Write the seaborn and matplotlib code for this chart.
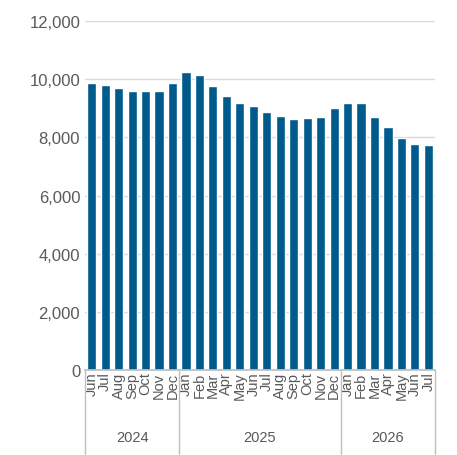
import matplotlib
matplotlib.use("Agg")
import matplotlib.pyplot as plt
import seaborn as sns
import pandas as pd

months = ["Jun", "Jul", "Aug", "Sep", "Oct", "Nov", "Dec",
          "Jan", "Feb", "Mar", "Apr", "May", "Jun", "Jul", "Aug", "Sep", "Oct", "Nov", "Dec",
          "Jan", "Feb", "Mar", "Apr", "May", "Jun", "Jul"]
years = ["2024"] * 7 + ["2025"] * 12 + ["2026"] * 7
values = [9850, 9800, 9700, 9600, 9600, 9600, 9870,
          10250, 10150, 9770, 9420, 9180, 9080, 8870, 8730, 8630, 8660, 8700, 9010,
          9180, 9180, 8700, 8360, 7980, 7770, 7740]

df = pd.DataFrame({"pos": range(len(values)), "value": values})

sns.set_theme(style="white")
plt.rcParams["font.family"] = ["Liberation Sans", "DejaVu Sans"]
grey = "#595959"

fig = plt.figure(figsize=(4.57, 4.56), dpi=100)
ax = fig.add_axes([0.186, 0.186, 0.766, 0.766])
sns.barplot(data=df, x="pos", y="value", color="#005a8c", width=0.68,
            saturation=1, ax=ax)
ax.set_ylim(0, 12000)
ax.set_xlim(-0.5, len(values) - 0.5)
ax.set_yticks(range(0, 12001, 2000))
ax.set_yticklabels([f"{v:,}" for v in range(0, 12001, 2000)], fontsize=12, color=grey)
ax.set_xticks(range(len(values)))
ax.set_xticklabels(months, rotation=90, fontsize=10.5, color=grey)
ax.tick_params(axis="x", pad=1, length=0)
ax.tick_params(axis="y", length=0)
ax.set_xlabel("")
ax.set_ylabel("")
ax.yaxis.grid(True, color="#d9d9d9", linewidth=1)
ax.set_axisbelow(True)
for s in ["top", "right", "left"]:
    ax.spines[s].set_visible(False)
ax.spines["bottom"].set_color("#bfbfbf")

# year groups below the month labels
trans = ax.get_xaxis_transform()
bounds = [-0.5]
start = 0
for i in range(1, len(years) + 1):
    if i == len(years) or years[i] != years[start]:
        ax.text((start + i - 1) / 2, -0.19, years[start], transform=trans,
                ha="center", va="center", fontsize=10.5, color=grey)
        bounds.append(i - 0.5)
        start = i
for b in bounds:
    ax.plot([b, b], [0, -0.24], transform=trans, color="#bfbfbf",
            linewidth=1, clip_on=False)

fig.savefig("out.png", dpi=100)
